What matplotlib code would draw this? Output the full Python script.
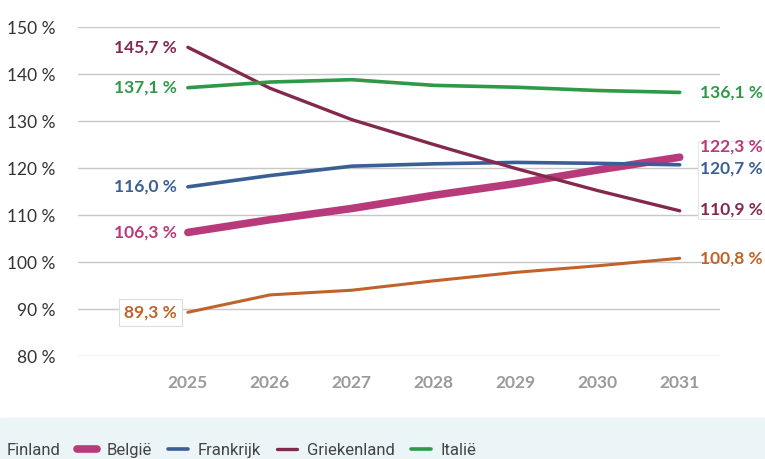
import matplotlib.pyplot as plt
from matplotlib.patches import Rectangle

years = [2025, 2026, 2027, 2028, 2029, 2030, 2031]

finland = [89.3, 93.0, 94.0, 96.0, 97.8, 99.2, 100.8]
belgie = [106.3, 109.0, 111.4, 114.2, 116.7, 119.6, 122.3]
frankrijk = [116.0, 118.4, 120.4, 120.9, 121.2, 121.0, 120.7]
griekenland = [145.7, 137.0, 130.3, 125.0, 119.9, 115.2, 110.9]
italie = [137.1, 138.3, 138.8, 137.6, 137.2, 136.5, 136.1]

names = ['Finland', 'België', 'Frankrijk', 'Griekenland', 'Italië']
series = [finland, belgie, frankrijk, griekenland, italie]
colors = ['#C0622A', '#B83A7B', '#3A5F94', '#84294D', '#2E9A48']
widths = [2.2, 5.5, 2.6, 2.4, 2.6]

# label offsets (in % units) to avoid overlap
right_off = [0, 2.2, -0.9, 0.3, 0]

plt.rcParams['font.family'] = ['Lato', 'DejaVu Sans']

fig = plt.figure(figsize=(7.65, 4.59), dpi=100)
fig.patches.append(Rectangle((0, 0), 1, 41 / 459, transform=fig.transFigure,
                             color='#EBF4F7', zorder=0))

ax = fig.add_axes([0.102, 0.2244, 0.839, 0.7166])
ax.set_xlim(2023.66, 2031.49)
ax.set_ylim(80, 150)

ax.set_yticks(range(80, 151, 10))
ax.set_yticklabels([f'{v} %' for v in range(80, 151, 10)], fontsize=12.5, color='#333333')
ax.set_xticks(years)
ax.set_xticklabels([str(y) for y in years], fontsize=12.5, color='#9A9A9A', fontweight='bold')
ax.tick_params(axis='both', length=0)
ax.tick_params(axis='x', pad=14)
ax.tick_params(axis='y', pad=16)
ax.grid(axis='y', color='#C8C8C8', linewidth=1)
ax.set_axisbelow(True)
for s in ax.spines.values():
    s.set_visible(False)

# white box behind the crowded right-hand labels
ax.add_patch(Rectangle((2031.22, 109.2), 1.0, 16.5, fc='white', ec='#E6E6E6', lw=0.8,
                       clip_on=False, zorder=1))

lines = []
for name, vals, c, w in zip(names, series, colors, widths):
    ln, = ax.plot(years, vals, color=c, linewidth=w, solid_capstyle='round', label=name, zorder=3)
    lines.append(ln)

def fmt(v):
    return f'{v:.1f} %'.replace('.', ',')

for i, (vals, c) in enumerate(zip(series, colors)):
    bbox = None
    if i == 0:
        bbox = dict(boxstyle='square,pad=0.3', fc='white', ec='#DDDDDD', lw=0.8)
    ax.text(years[0] - 0.13, vals[0], fmt(vals[0]), color=c, fontsize=12.5,
            fontweight='bold', ha='right', va='center', bbox=bbox, zorder=4)
    ax.text(years[-1] + 0.25, vals[-1] + right_off[i], fmt(vals[-1]), color=c, fontsize=12.5,
            fontweight='bold', ha='left', va='center', clip_on=False, zorder=4)

leg = fig.legend(handles=lines, loc='lower left', bbox_to_anchor=(-0.049, -0.031), ncol=5,
                 frameon=False, handlelength=1.2, columnspacing=1.0, handletextpad=0.55,
                 prop={'family': 'Roboto', 'size': 12})
for t in leg.get_texts():
    t.set_color('#444444')

fig.savefig('out.png', dpi=100)
